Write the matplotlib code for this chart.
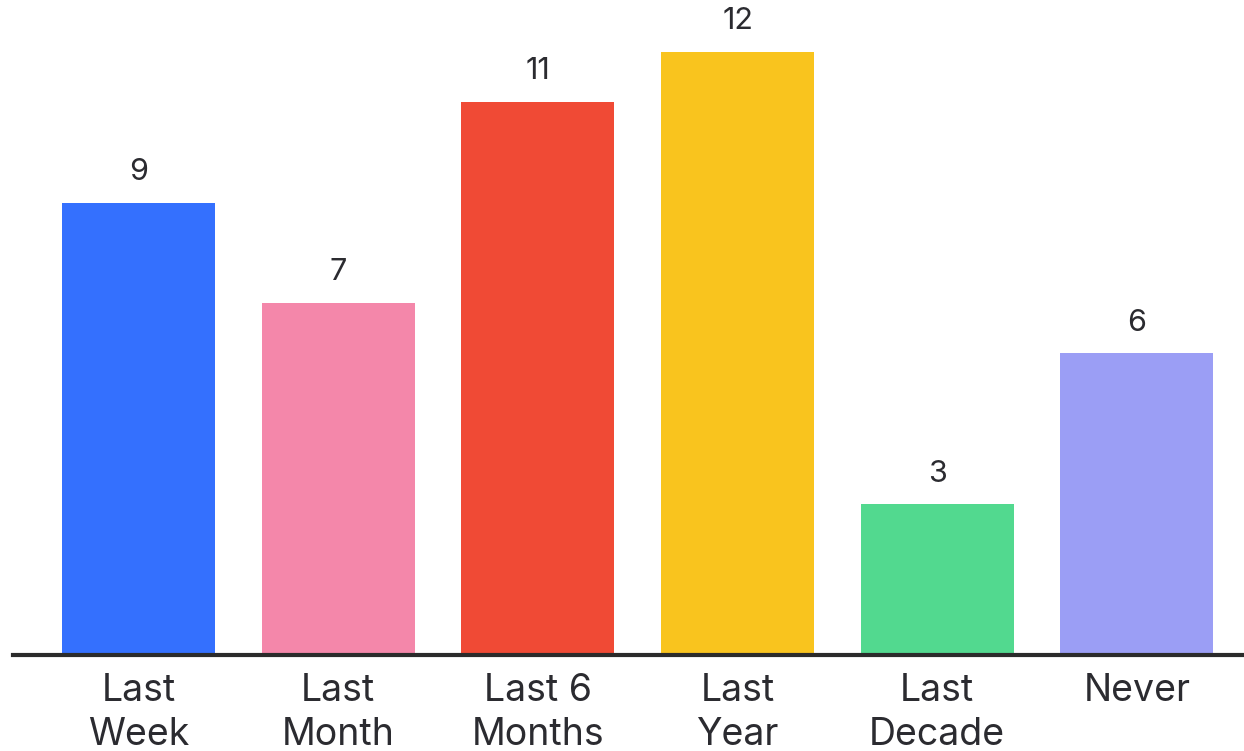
import matplotlib
matplotlib.use("Agg")
import matplotlib.pyplot as plt

categories = ["Last\nWeek", "Last\nMonth", "Last 6\nMonths", "Last\nYear", "Last\nDecade", "Never"]
values = [9, 7, 11, 12, 3, 6]
colors = ["#3470FE", "#F487AA", "#F04A35", "#F9C41E", "#52D98F", "#9B9EF5"]

plt.rcParams['font.family'] = ['Inter', 'DejaVu Sans']
text_color = "#2B2B30"

fig = plt.figure(figsize=(12.44, 7.51), dpi=100)
ax = fig.add_axes([13/1244, 96/751, 1231/1244, 655/751])
x = list(range(len(categories)))
bars = ax.bar(x, values, width=0.766, color=colors, zorder=2)
ax.set_xlim(-0.628, 5.536)
ax.set_ylim(0, 13.03)

for xi, v in zip(x, values):
    ax.annotate(str(v), (xi, v), xytext=(0, 12), textcoords="offset points",
                ha="center", va="bottom", fontsize=22, color=text_color)

ax.set_xticks(x)
ax.set_xticklabels(categories, fontsize=27, color=text_color, linespacing=1.28, va="top")
ax.tick_params(axis="x", length=0, pad=13)
ax.set_yticks([])
for s in ["left", "right", "top"]:
    ax.spines[s].set_visible(False)
ax.spines["bottom"].set_linewidth(3)
ax.spines["bottom"].set_color("#2B2B2B")
ax.spines["bottom"].set_zorder(3)

fig.savefig("out.png", dpi=100, facecolor="white")
